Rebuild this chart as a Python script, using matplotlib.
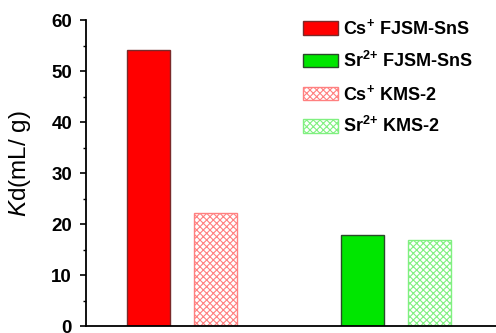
import matplotlib.pyplot as plt
from matplotlib.ticker import MultipleLocator

plt.rcParams['font.family'] = ['Liberation Sans', 'DejaVu Sans']
plt.rcParams['font.weight'] = 'bold'
plt.rcParams['mathtext.fontset'] = 'custom'
plt.rcParams['mathtext.rm'] = 'Liberation Sans:bold'
plt.rcParams['mathtext.bf'] = 'Liberation Sans:bold'
plt.rcParams['mathtext.it'] = 'Liberation Sans:style=italic:weight=normal'
plt.rcParams['hatch.linewidth'] = 0.8

# Kd values for each adsorbent / ion
labels = [r'Cs$^{{+}}$ FJSM-SnS', r'Sr$^{2{+}}$ FJSM-SnS',
          r'Cs$^{{+}}$ KMS-2', r'Sr$^{2{+}}$ KMS-2']
kd_values = [54.1, 17.8, 22.2, 16.9]
positions = [0.62, 2.76, 1.29, 3.43]
face_colors = ['#ff0000', '#00e600', 'white', 'white']
edge_colors = ['#7a2a2a', '#2a4a2a', '#ff8080', '#80f080']
hatches = [None, None, 'xxxxx', 'xxxxx']

fig = plt.figure(figsize=(4.96, 3.33), dpi=100)
ax = fig.add_axes([0.1734, 0.021, 0.8266, 0.918])

for x, v, fc, ec, h, lab in zip(positions, kd_values, face_colors,
                                edge_colors, hatches, labels):
    ax.bar(x, v, width=0.43, color=fc, edgecolor=ec, hatch=h,
           linewidth=1.0, label=lab)

ax.set_xlim(0, 4.1)
ax.set_ylim(0, 60)
ax.yaxis.set_major_locator(MultipleLocator(10))
ax.yaxis.set_minor_locator(MultipleLocator(5))
ax.set_xticks([])
ax.spines['top'].set_visible(False)
ax.spines['right'].set_visible(False)
ax.spines['left'].set_linewidth(1.3)
ax.spines['bottom'].set_linewidth(1.3)
ax.tick_params(axis='y', which='major', direction='out', length=4, width=1.2,
               labelsize=13.5, pad=6)
ax.tick_params(axis='y', which='minor', direction='out', length=2.5, width=1.0)

ax.set_ylabel(r'$\mathit{K}$d(mL/ g)', fontsize=17.5, fontweight='normal')
ax.yaxis.set_label_coords(-0.13, 0.53)

leg = ax.legend(loc='upper left', bbox_to_anchor=(0.49, 1.06), frameon=False,
                prop={'weight': 'bold', 'size': 13}, handlelength=1.95,
                handleheight=0.78, labelspacing=0.7, handletextpad=0.25)

fig.savefig('out.png', dpi=100)
